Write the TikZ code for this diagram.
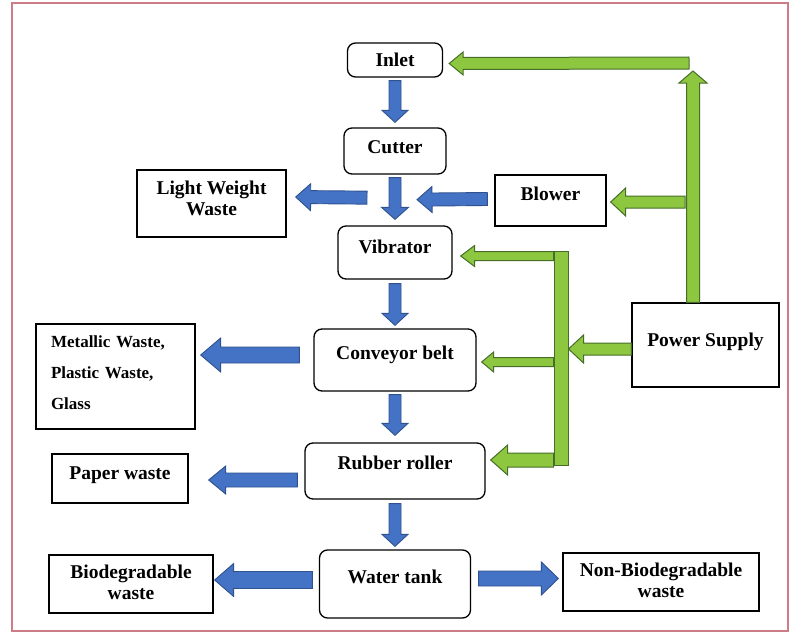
\documentclass[tikz,border=0pt]{standalone}
\usepackage{fontspec}
\setmainfont{Liberation Serif}
\usetikzlibrary{calc}

\definecolor{flowblue}{RGB}{68,114,196}
\definecolor{flowblueline}{RGB}{47,82,143}
\definecolor{powergreen}{RGB}{141,198,63}
\definecolor{powergreenline}{RGB}{70,110,40}
\definecolor{framepink}{RGB}{205,125,135}

% block arrow: style, tail, tip, half shaft, half head, head length
\newcommand\flow[6]{%
  \coordinate (fa-s) at #2;
  \coordinate (fa-e) at #3;
  \coordinate (fa-n) at ($(fa-e)!#6pt!(fa-s)$);
  \draw[#1] ($(fa-s)!#4pt!90:(fa-e)$) -- ($(fa-n)!#4pt!90:(fa-e)$) -- ($(fa-n)!#5pt!90:(fa-e)$)
    -- (fa-e) -- ($(fa-n)!#5pt!-90:(fa-e)$) -- ($(fa-n)!#4pt!-90:(fa-e)$) -- ($(fa-s)!#4pt!-90:(fa-e)$) -- cycle;}

\begin{document}
\begin{tikzpicture}[x=1pt, y=-1pt,
    stage/.style={draw, line width=1.3pt, rounded corners=8pt, inner sep=0pt, text height=13pt,
      font=\fontsize{19.5}{21}\selectfont\bfseries},
    outlet/.style={stage, sharp corners},
    blueflow/.style={fill=flowblue, draw=flowblueline, line width=0.9pt},
    greenflow/.style={fill=powergreen, draw=powergreenline, line width=1pt}]
  \useasboundingbox (0,0) rectangle (792,634);
  \draw[framepink, line width=1.2pt] (12,3) rectangle (788,631);

  % process column
  \node [stage, minimum width=95pt, minimum height=34pt, text depth=0pt] (inlet) at (395,60) {Inlet};
  \node [stage, minimum width=102pt, minimum height=46pt, text depth=8pt] (cutter) at (395,151) {Cutter};
  \node [stage, minimum width=114pt, minimum height=53pt, text depth=11pt] (vibrator) at (395,252.5) {Vibrator};
  \node [stage, minimum width=162pt, minimum height=62pt, text depth=14pt] (conveyor) at (395,360) {Conveyor belt};
  \node [stage, minimum width=180pt, minimum height=56pt, text depth=16pt] (roller) at (395,471) {Rubber roller};
  \node [stage, minimum width=151pt, minimum height=68pt, text depth=14pt] (tank) at (395,584) {Water tank};

  % outputs and inputs
  \node [outlet, minimum width=149pt, minimum height=67pt, text height=24pt, text depth=0pt, align=center] (light) at (211.5,203.5) {Light Weight\\Waste};
  \node [outlet, minimum width=111pt, minimum height=51pt, text depth=13pt] (blower) at (550.5,200.5) {Blower};
  \node [outlet, minimum width=147pt, minimum height=84pt, text depth=10pt] (power) at (705.5,345) {Power Supply};
  \node [outlet, minimum width=159pt, minimum height=105pt, text width=129pt, inner xsep=15pt, align=left,
    font=\fontsize{17}{31}\selectfont\bfseries, text height=12pt, text depth=70pt] (metal) at (115.5,376.5) {Metallic Waste,\\Plastic Waste,\\Glass};
  \node [outlet, minimum width=136pt, minimum height=49pt, text depth=11pt] (paper) at (120,478.5) {Paper waste};
  \node [outlet, minimum width=164pt, minimum height=58pt, text height=31pt, text depth=0pt, align=center] (bio) at (131,584) {Biodegradable\\waste};
  \node [outlet, minimum width=196pt, minimum height=58pt, text height=31pt, text depth=0pt, align=center] (nonbio) at (661,582) {Non-Biodegradable\\waste};

  % power lines
  \node [greenflow, minimum width=14pt, minimum height=214pt, inner sep=0pt] (bus) at (561,358) {};
  \coordinate (feed) at (693,63);

  \flow{blueflow}{($(inlet.south)+(0,3)$)}{($(cutter.north)+(0,-5)$)}{6}{13}{12}
  \flow{blueflow}{($(cutter.south)+(0,3)$)}{($(vibrator.north)+(0,-6)$)}{6}{13.5}{12}
  \flow{blueflow}{($(vibrator.south)+(0,4)$)}{($(conveyor.north)+(0,-3)$)}{6}{13}{12}
  \flow{blueflow}{($(conveyor.south)+(0,3)$)}{($(roller.north)+(0,-7)$)}{6}{13}{12}
  \flow{blueflow}{($(roller.south)+(0,4)$)}{($(tank.north)+(0,-3)$)}{6}{13}{12}
  \flow{blueflow}{($(cutter.south)+(-28,23)$)}{($(light.east)+(9,-6.5)$)}{6.5}{13.5}{15}
  \flow{blueflow}{($(blower.west)+(-7,-1.5)$)}{($(cutter.south)+(22,25)$)}{6.5}{13}{15}
  \flow{blueflow}{($(conveyor.west)+(-14,-5)$)}{($(metal.east)+(5,-21.5)$)}{8}{17}{20}
  \flow{blueflow}{($(roller.west)+(-7,9)$)}{($(paper.east)+(20,1.5)$)}{7}{14}{17}
  \flow{blueflow}{($(tank.west)+(-6.5,-4)$)}{($(bio.east)+(1,-4)$)}{8.5}{16.5}{19}
  \flow{blueflow}{($(tank.east)+(7.5,-5.5)$)}{($(nonbio.west)+(-4,-3.5)$)}{7.5}{16.5}{17}

  \flow{greenflow}{($(power.north)+(-12.5,0)$)}{($(feed)+(0,8)$)}{6.5}{14}{12}
  \flow{greenflow}{($(feed)+(-4,0)$)}{($(inlet.east)+(6,3.5)$)}{6}{11.5}{14}
  \flow{greenflow}{($(blower.east -| feed)+(-8,1.5)$)}{($(blower.east)+(4,1.5)$)}{6}{14}{15}
  \flow{greenflow}{($(power.west)+(0,4)$)}{($(bus.east |- power.west)+(0,4)$)}{6}{14}{15}
  \flow{greenflow}{($(vibrator.east -| bus.west)+(0,3.5)$)}{($(vibrator.east)+(8,3.5)$)}{4.5}{10.5}{14}
  \flow{greenflow}{($(conveyor.east -| bus.west)+(0,2)$)}{($(conveyor.east)+(5,2)$)}{4.5}{10}{12}
  \flow{greenflow}{($(roller.east -| bus.west)+(0,-11)$)}{($(roller.east)+(5,-11)$)}{7}{15}{17}
\end{tikzpicture}
\end{document}
